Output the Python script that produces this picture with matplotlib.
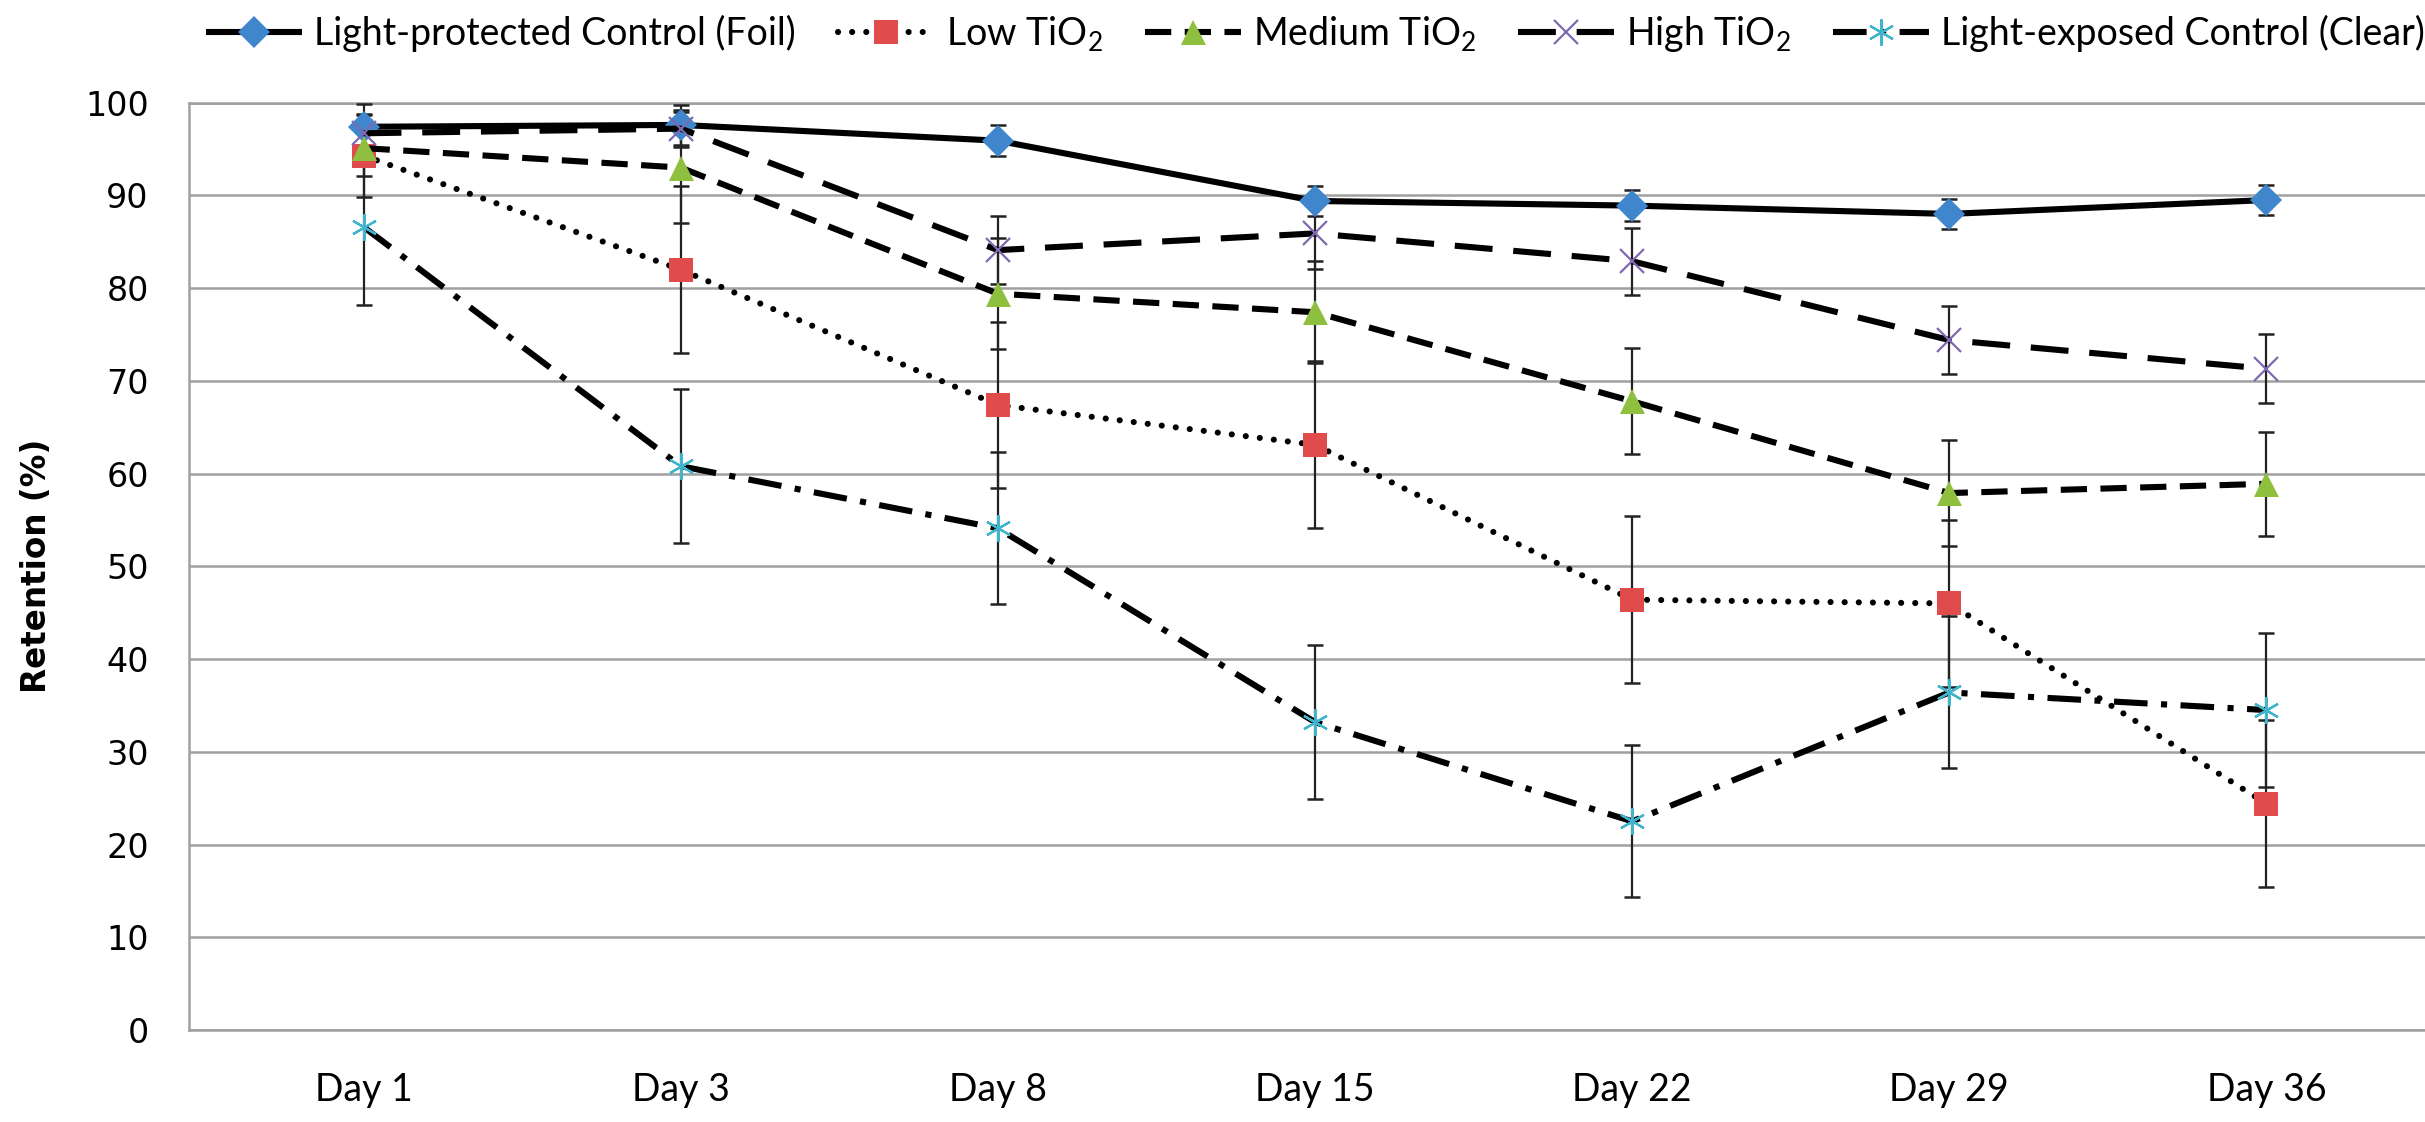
import matplotlib
matplotlib.use("Agg")
import matplotlib.pyplot as plt
import numpy as np

days = ["Day 1", "Day 3", "Day 8", "Day 15", "Day 22", "Day 29", "Day 36"]
y_ticks = [0, 10, 20, 30, 40, 50, 60, 70, 80, 90, 100]

foil = [97.4, 97.6, 95.9, 89.4, 88.9, 88.0, 89.5]
foil_err = [2.5, 2.2, 1.7, 1.6, 1.7, 1.6, 1.6]
low = [94.3, 82.0, 67.4, 63.1, 46.4, 46.0, 24.4]
low_err = [4.5, 9.0, 9.0, 9.0, 9.0, 9.0, 9.0]
medium = [95.1, 93.0, 79.4, 77.4, 67.8, 57.9, 58.9]
medium_err = [3.0, 6.0, 6.0, 5.5, 5.7, 5.7, 5.6]
high = [96.7, 97.2, 84.1, 85.9, 82.9, 74.4, 71.3]
high_err = [2.0, 2.0, 3.7, 3.8, 3.6, 3.7, 3.7]
clear = [86.6, 60.8, 54.1, 33.2, 22.5, 36.4, 34.5]
clear_err = [8.4, 8.3, 8.2, 8.3, 8.2, 8.2, 8.3]

labels = ["Light-protected Control (Foil)", "Low TiO$_2$", "Medium TiO$_2$",
          "High TiO$_2$", "Light-exposed Control (Clear)"]

plt.rcParams['mathtext.fontset'] = 'custom'
plt.rcParams['mathtext.rm'] = 'Lato'
plt.rcParams['mathtext.default'] = 'regular'

fig = plt.figure(figsize=(24.25, 11.22), dpi=100)
ax = fig.add_axes([0.078, 0.082, 0.922, 0.8265])

x = np.arange(len(days))
lw = 4.4
series = [
    (foil, foil_err, dict(ls='-', cap='butt', marker='D', color='#3f86cc', ms=16, mew=0)),
    (low, low_err, dict(ls=(0, (0.01, 2.3)), cap='round', marker='s', color='#e04b4b', ms=17, mew=0)),
    (medium, medium_err, dict(ls=(0, (4.3, 2.2)), cap='butt', marker='^', color='#8fbf3f', ms=18, mew=0)),
    (high, high_err, dict(ls=(0, (6.2, 3.4)), cap='butt', marker='x', color='#7f68b0', ms=17, mew=1.6)),
    (clear, clear_err, dict(ls=(0, (5.5, 2.2, 1.0, 2.2)), cap='butt', marker=(6, 2, 0), color='#3fb4cc', ms=19, mew=1.6)),
]

handles = []
for i, (vals, errs, st) in enumerate(series):
    ax.errorbar(x, vals, yerr=errs, fmt='none', ecolor='#222222', elinewidth=1.6,
                capsize=5.5, capthick=1.8, zorder=3 + i * 0.1)
    h, = ax.plot(x, vals, linestyle=st['ls'], color='black', lw=lw,
                 dash_capstyle=st['cap'], solid_capstyle='butt',
                 marker=st['marker'], markersize=st['ms'], markerfacecolor=st['color'],
                 markeredgecolor=st['color'], markeredgewidth=st['mew'],
                 zorder=4 + i * 0.1, label=labels[i])
    handles.append(h)

ax.set_xlim(-0.55, 6.5)
ax.set_ylim(0, 100)
ax.set_xticks(x)
ax.set_xticklabels(days, fontfamily='Lato', fontsize=27)
ax.set_yticks(y_ticks)
ax.set_yticklabels([str(t) for t in y_ticks], fontfamily='DejaVu Sans', fontsize=24)
ax.tick_params(axis='x', length=0, pad=30)
ax.tick_params(axis='y', length=0, pad=29)

ax.grid(axis='y', color='#a0a0a0', lw=1.8, zorder=0)
ax.set_axisbelow(True)
ax.spines['right'].set_visible(False)
for s in ['left', 'bottom', 'top']:
    ax.spines[s].set_color('#a0a0a0')
    ax.spines[s].set_linewidth(1.8)

ax.set_ylabel("Retention (%)", fontfamily='DejaVu Sans', fontweight='bold', fontsize=23.5)
ax.yaxis.set_label_coords(-0.0608, 0.5)

leg = fig.legend(handles=handles, loc='center', bbox_to_anchor=(0.5425, 0.970), ncol=5,
                 frameon=False, numpoints=1, handlelength=2.56, handletextpad=0.32,
                 columnspacing=1.12, borderpad=0, borderaxespad=0,
                 prop={'family': 'Lato', 'size': 27})

fig.savefig("out.png", dpi=100, facecolor='white')
